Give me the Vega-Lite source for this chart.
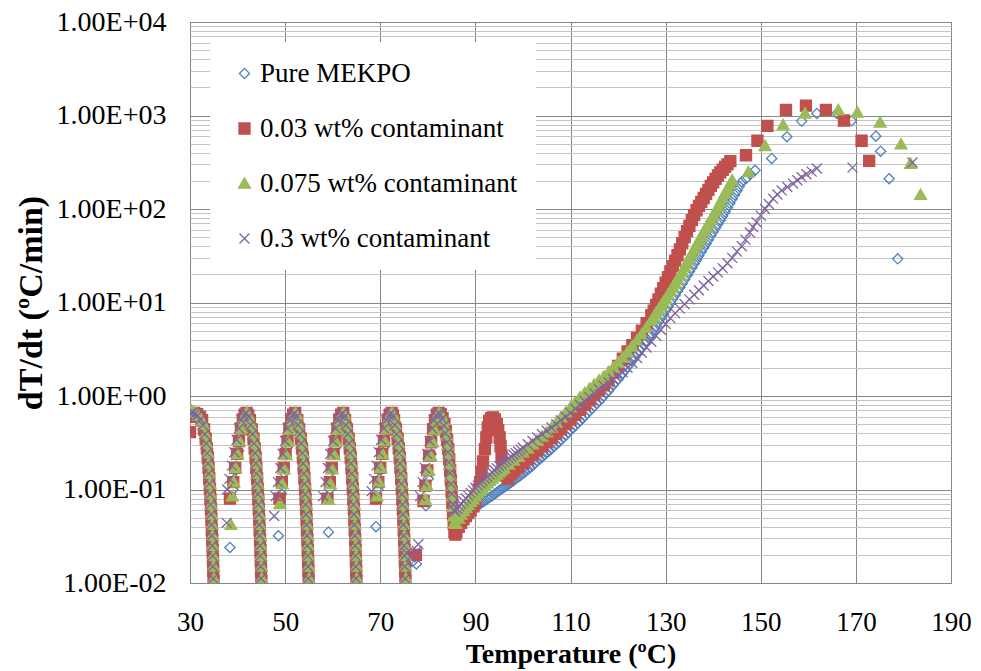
{
"$schema": "https://vega.github.io/schema/vega-lite/v6.json",
"width": 761, "height": 561, "autosize": "none",
"padding": {"left": 190, "top": 22, "right": 30, "bottom": 88},
"background": "white",
"config": {"view": {"stroke": "#868686", "strokeWidth": 1}, "font": "Liberation Serif"},
"data": {"values": [
{"s":"A","x":30.3,"y":0.6},{"s":"A","x":30.8,"y":0.63},{"s":"A","x":31.4,"y":0.62},{"s":"A","x":32.0,"y":0.58},{"s":"A","x":32.6,"y":0.5},{"s":"A","x":33.1,"y":0.38},{"s":"A","x":33.5,"y":0.27},{"s":"A","x":33.85,"y":0.17},{"s":"A","x":34.1,"y":0.11},{"s":"A","x":34.3,"y":0.072},{"s":"A","x":34.5,"y":0.045},{"s":"A","x":34.65,"y":0.03},{"s":"A","x":34.8,"y":0.019},{"s":"A","x":34.95,"y":0.012},
{"s":"A","x":38.4,"y":0.024},
{"s":"A","x":39.0,"y":0.1},{"s":"A","x":39.6,"y":0.16},{"s":"A","x":40.2,"y":0.26},{"s":"A","x":40.8,"y":0.42},{"s":"A","x":41.4,"y":0.58},{"s":"A","x":42.0,"y":0.65},{"s":"A","x":42.6,"y":0.57},{"s":"A","x":43.2,"y":0.4},{"s":"A","x":43.7,"y":0.26},{"s":"A","x":44.1,"y":0.15},{"s":"A","x":44.4,"y":0.085},{"s":"A","x":44.65,"y":0.045},{"s":"A","x":44.85,"y":0.024},{"s":"A","x":45.02,"y":0.012},
{"s":"A","x":48.6,"y":0.032},
{"s":"A","x":49.2,"y":0.09},{"s":"A","x":49.8,"y":0.15},{"s":"A","x":50.4,"y":0.28},{"s":"A","x":51.0,"y":0.44},{"s":"A","x":51.6,"y":0.6},{"s":"A","x":52.2,"y":0.65},{"s":"A","x":52.8,"y":0.52},{"s":"A","x":53.3,"y":0.37},{"s":"A","x":53.75,"y":0.24},{"s":"A","x":54.1,"y":0.14},{"s":"A","x":54.4,"y":0.08},{"s":"A","x":54.65,"y":0.043},{"s":"A","x":54.85,"y":0.023},{"s":"A","x":55.0,"y":0.012},
{"s":"A","x":59.1,"y":0.035},
{"s":"A","x":59.4,"y":0.1},{"s":"A","x":60.0,"y":0.16},{"s":"A","x":60.6,"y":0.28},{"s":"A","x":61.2,"y":0.45},{"s":"A","x":61.8,"y":0.6},{"s":"A","x":62.3,"y":0.65},{"s":"A","x":62.9,"y":0.52},{"s":"A","x":63.4,"y":0.37},{"s":"A","x":63.8,"y":0.24},{"s":"A","x":64.15,"y":0.14},{"s":"A","x":64.45,"y":0.08},{"s":"A","x":64.7,"y":0.043},{"s":"A","x":64.9,"y":0.023},{"s":"A","x":65.05,"y":0.012},
{"s":"A","x":69.1,"y":0.04},
{"s":"A","x":69.5,"y":0.1},{"s":"A","x":70.1,"y":0.16},{"s":"A","x":70.7,"y":0.28},{"s":"A","x":71.3,"y":0.45},{"s":"A","x":71.9,"y":0.6},{"s":"A","x":72.5,"y":0.65},{"s":"A","x":73.2,"y":0.52},{"s":"A","x":73.7,"y":0.37},{"s":"A","x":74.1,"y":0.24},{"s":"A","x":74.45,"y":0.14},{"s":"A","x":74.75,"y":0.08},{"s":"A","x":75.0,"y":0.043},{"s":"A","x":75.2,"y":0.023},{"s":"A","x":75.35,"y":0.012},
{"s":"A","x":76.8,"y":0.017},{"s":"A","x":77.6,"y":0.016},{"s":"A","x":79.6,"y":0.067},
{"s":"A","x":80.1,"y":0.13},{"s":"A","x":80.7,"y":0.24},{"s":"A","x":81.3,"y":0.42},{"s":"A","x":81.9,"y":0.6},{"s":"A","x":82.5,"y":0.65},{"s":"A","x":83.1,"y":0.55},{"s":"A","x":83.6,"y":0.45},{"s":"A","x":84.0,"y":0.33},{"s":"A","x":84.4,"y":0.22},{"s":"A","x":84.8,"y":0.13},{"s":"A","x":85.1,"y":0.085},{"s":"A","x":85.4,"y":0.06},{"s":"A","x":85.7,"y":0.048},{"s":"A","x":86.0,"y":0.043},
{"s":"A","x":86.5,"y":0.044},{"s":"A","x":87,"y":0.047},{"s":"A","x":87.5,"y":0.05},{"s":"A","x":88,"y":0.052},{"s":"A","x":88.5,"y":0.055},{"s":"A","x":89,"y":0.058},{"s":"A","x":89.5,"y":0.061},{"s":"A","x":90,"y":0.064},{"s":"A","x":90.5,"y":0.067},{"s":"A","x":91,"y":0.07},{"s":"A","x":91.5,"y":0.073},{"s":"A","x":92,"y":0.076},{"s":"A","x":92.5,"y":0.079},{"s":"A","x":93,"y":0.082},{"s":"A","x":93.5,"y":0.085},{"s":"A","x":94,"y":0.089},{"s":"A","x":94.5,"y":0.093},{"s":"A","x":95,"y":0.097},{"s":"A","x":95.5,"y":0.101},{"s":"A","x":96,"y":0.105},{"s":"A","x":96.5,"y":0.11},{"s":"A","x":97,"y":0.114},{"s":"A","x":97.5,"y":0.119},{"s":"A","x":98,"y":0.124},{"s":"A","x":98.5,"y":0.13},{"s":"A","x":99,"y":0.135},{"s":"A","x":99.5,"y":0.141},{"s":"A","x":100,"y":0.148},{"s":"A","x":100.5,"y":0.155},{"s":"A","x":101,"y":0.163},{"s":"A","x":101.5,"y":0.171},{"s":"A","x":102,"y":0.18},{"s":"A","x":102.5,"y":0.19},{"s":"A","x":103,"y":0.2},{"s":"A","x":103.5,"y":0.211},{"s":"A","x":104,"y":0.222},{"s":"A","x":104.5,"y":0.234},{"s":"A","x":105,"y":0.246},{"s":"A","x":105.5,"y":0.259},{"s":"A","x":106,"y":0.273},{"s":"A","x":106.5,"y":0.288},{"s":"A","x":107,"y":0.303},{"s":"A","x":107.5,"y":0.32},{"s":"A","x":108,"y":0.34},{"s":"A","x":108.5,"y":0.36},{"s":"A","x":109,"y":0.38},{"s":"A","x":109.5,"y":0.405},{"s":"A","x":110,"y":0.43},{"s":"A","x":110.5,"y":0.455},{"s":"A","x":111,"y":0.48},{"s":"A","x":111.5,"y":0.51},{"s":"A","x":112,"y":0.54},{"s":"A","x":112.5,"y":0.575},{"s":"A","x":113,"y":0.61},{"s":"A","x":113.5,"y":0.65},{"s":"A","x":114,"y":0.69},{"s":"A","x":114.5,"y":0.735},{"s":"A","x":115,"y":0.78},{"s":"A","x":115.5,"y":0.83},{"s":"A","x":116,"y":0.88},{"s":"A","x":116.5,"y":0.94},{"s":"A","x":117,"y":1.0},{"s":"A","x":117.5,"y":1.07},{"s":"A","x":118,"y":1.14},{"s":"A","x":118.5,"y":1.23},{"s":"A","x":119,"y":1.32},{"s":"A","x":119.5,"y":1.42},{"s":"A","x":120,"y":1.52},{"s":"A","x":120.5,"y":1.64},{"s":"A","x":121,"y":1.76},{"s":"A","x":121.5,"y":1.9},{"s":"A","x":122,"y":2.05},{"s":"A","x":122.5,"y":2.22},{"s":"A","x":123,"y":2.4},{"s":"A","x":123.5,"y":2.6},{"s":"A","x":124,"y":2.8},{"s":"A","x":124.5,"y":3.05},{"s":"A","x":125,"y":3.3},{"s":"A","x":125.5,"y":3.6},{"s":"A","x":126,"y":3.9},{"s":"A","x":126.5,"y":4.3},{"s":"A","x":127,"y":4.7},{"s":"A","x":127.5,"y":5.1},{"s":"A","x":128,"y":5.6},{"s":"A","x":128.5,"y":6.2},{"s":"A","x":129,"y":6.8},{"s":"A","x":129.5,"y":7.5},{"s":"A","x":130,"y":8.2},{"s":"A","x":130.5,"y":9},{"s":"A","x":131,"y":9.9},{"s":"A","x":131.5,"y":10.9},{"s":"A","x":132,"y":12},{"s":"A","x":132.5,"y":13.2},{"s":"A","x":133,"y":14.5},{"s":"A","x":133.5,"y":16},{"s":"A","x":134,"y":17.6},{"s":"A","x":134.5,"y":19.4},{"s":"A","x":135,"y":21.4},{"s":"A","x":135.5,"y":23.6},{"s":"A","x":136,"y":26},{"s":"A","x":136.5,"y":28.7},{"s":"A","x":137,"y":31.7},{"s":"A","x":137.5,"y":35},{"s":"A","x":138,"y":38.6},{"s":"A","x":138.5,"y":42.5},{"s":"A","x":139,"y":47},{"s":"A","x":139.5,"y":52},{"s":"A","x":140,"y":57},{"s":"A","x":140.5,"y":63},{"s":"A","x":141,"y":69},{"s":"A","x":141.5,"y":76},{"s":"A","x":142,"y":84},{"s":"A","x":142.5,"y":93},{"s":"A","x":143,"y":103},{"s":"A","x":143.5,"y":115},{"s":"A","x":144,"y":128},{"s":"A","x":144.5,"y":142},{"s":"A","x":145,"y":157},{"s":"A","x":145.5,"y":175},{"s":"A","x":146,"y":195},{"s":"A","x":146.9,"y":211},{"s":"A","x":147.8,"y":235},{"s":"A","x":148.8,"y":259},
{"s":"A","x":152.3,"y":347},{"s":"A","x":155.5,"y":593},{"s":"A","x":158.6,"y":871},{"s":"A","x":161.8,"y":1052},{"s":"A","x":166.0,"y":1052},{"s":"A","x":169.1,"y":879},{"s":"A","x":174.2,"y":601},{"s":"A","x":175.2,"y":415},{"s":"A","x":177.0,"y":211},{"s":"A","x":178.8,"y":29.3},

{"s":"B","x":30,"y":0.41},{"s":"B","x":30.4,"y":0.6},{"s":"B","x":30.9,"y":0.66},{"s":"B","x":31.5,"y":0.64},{"s":"B","x":32.1,"y":0.6},
{"s":"B","x":32.55,"y":0.55},{"s":"B","x":32.95,"y":0.44},{"s":"B","x":33.3,"y":0.35},{"s":"B","x":33.55,"y":0.275},{"s":"B","x":33.75,"y":0.22},{"s":"B","x":33.9,"y":0.17},{"s":"B","x":34.05,"y":0.132},{"s":"B","x":34.19,"y":0.102},{"s":"B","x":34.3,"y":0.079},{"s":"B","x":34.41,"y":0.062},{"s":"B","x":34.5,"y":0.048},{"s":"B","x":34.59,"y":0.037},{"s":"B","x":34.68,"y":0.029},{"s":"B","x":34.76,"y":0.0224},{"s":"B","x":34.83,"y":0.0174},{"s":"B","x":34.89,"y":0.0135},{"s":"B","x":34.95,"y":0.0105},
{"s":"B","x":38.4,"y":0.08},{"s":"B","x":39.1,"y":0.12},{"s":"B","x":39.5,"y":0.17},{"s":"B","x":39.9,"y":0.24},{"s":"B","x":40.3,"y":0.33},{"s":"B","x":40.7,"y":0.45},{"s":"B","x":41.1,"y":0.56},{"s":"B","x":41.5,"y":0.63},{"s":"B","x":41.9,"y":0.66},{"s":"B","x":42.25,"y":0.62},
{"s":"B","x":42.6,"y":0.55},{"s":"B","x":43.0,"y":0.44},{"s":"B","x":43.35,"y":0.35},{"s":"B","x":43.6,"y":0.275},{"s":"B","x":43.8,"y":0.22},{"s":"B","x":43.95,"y":0.17},{"s":"B","x":44.1,"y":0.132},{"s":"B","x":44.24,"y":0.102},{"s":"B","x":44.35,"y":0.079},{"s":"B","x":44.46,"y":0.062},{"s":"B","x":44.55,"y":0.048},{"s":"B","x":44.64,"y":0.037},{"s":"B","x":44.73,"y":0.029},{"s":"B","x":44.81,"y":0.0224},{"s":"B","x":44.88,"y":0.0174},{"s":"B","x":44.94,"y":0.0135},{"s":"B","x":45.0,"y":0.0105},
{"s":"B","x":48.8,"y":0.08},{"s":"B","x":49.3,"y":0.12},{"s":"B","x":49.7,"y":0.17},{"s":"B","x":50.1,"y":0.24},{"s":"B","x":50.5,"y":0.33},{"s":"B","x":50.9,"y":0.45},{"s":"B","x":51.3,"y":0.56},{"s":"B","x":51.7,"y":0.63},{"s":"B","x":52.1,"y":0.66},
{"s":"B","x":52.55,"y":0.55},{"s":"B","x":52.95,"y":0.44},{"s":"B","x":53.3,"y":0.35},{"s":"B","x":53.55,"y":0.275},{"s":"B","x":53.75,"y":0.22},{"s":"B","x":53.9,"y":0.17},{"s":"B","x":54.05,"y":0.132},{"s":"B","x":54.19,"y":0.102},{"s":"B","x":54.3,"y":0.079},{"s":"B","x":54.41,"y":0.062},{"s":"B","x":54.5,"y":0.048},{"s":"B","x":54.59,"y":0.037},{"s":"B","x":54.68,"y":0.029},{"s":"B","x":54.76,"y":0.0224},{"s":"B","x":54.83,"y":0.0174},{"s":"B","x":54.89,"y":0.0135},{"s":"B","x":54.95,"y":0.0105},
{"s":"B","x":58.9,"y":0.08},{"s":"B","x":59.4,"y":0.12},{"s":"B","x":59.8,"y":0.17},{"s":"B","x":60.2,"y":0.24},{"s":"B","x":60.6,"y":0.33},{"s":"B","x":61.0,"y":0.45},{"s":"B","x":61.4,"y":0.56},{"s":"B","x":61.8,"y":0.63},{"s":"B","x":62.2,"y":0.66},
{"s":"B","x":62.6,"y":0.55},{"s":"B","x":63.0,"y":0.44},{"s":"B","x":63.35,"y":0.35},{"s":"B","x":63.6,"y":0.275},{"s":"B","x":63.8,"y":0.22},{"s":"B","x":63.95,"y":0.17},{"s":"B","x":64.1,"y":0.132},{"s":"B","x":64.24,"y":0.102},{"s":"B","x":64.35,"y":0.079},{"s":"B","x":64.46,"y":0.062},{"s":"B","x":64.55,"y":0.048},{"s":"B","x":64.64,"y":0.037},{"s":"B","x":64.73,"y":0.029},{"s":"B","x":64.81,"y":0.0224},{"s":"B","x":64.88,"y":0.0174},{"s":"B","x":64.94,"y":0.0135},{"s":"B","x":65.0,"y":0.0105},
{"s":"B","x":69.1,"y":0.08},{"s":"B","x":69.6,"y":0.12},{"s":"B","x":70.0,"y":0.17},{"s":"B","x":70.4,"y":0.24},{"s":"B","x":70.8,"y":0.33},{"s":"B","x":71.2,"y":0.45},{"s":"B","x":71.6,"y":0.56},{"s":"B","x":72.0,"y":0.63},{"s":"B","x":72.4,"y":0.66},{"s":"B","x":72.65,"y":0.62},
{"s":"B","x":72.9,"y":0.55},{"s":"B","x":73.3,"y":0.44},{"s":"B","x":73.65,"y":0.35},{"s":"B","x":73.9,"y":0.275},{"s":"B","x":74.1,"y":0.22},{"s":"B","x":74.25,"y":0.17},{"s":"B","x":74.4,"y":0.132},{"s":"B","x":74.54,"y":0.102},{"s":"B","x":74.65,"y":0.079},{"s":"B","x":74.76,"y":0.062},{"s":"B","x":74.85,"y":0.048},{"s":"B","x":74.94,"y":0.037},{"s":"B","x":75.03,"y":0.029},{"s":"B","x":75.11,"y":0.0224},{"s":"B","x":75.18,"y":0.0174},{"s":"B","x":75.24,"y":0.0135},{"s":"B","x":75.3,"y":0.0105},
{"s":"B","x":77.5,"y":0.02},
{"s":"B","x":79.1,"y":0.075},{"s":"B","x":79.5,"y":0.11},{"s":"B","x":79.9,"y":0.16},{"s":"B","x":80.3,"y":0.23},{"s":"B","x":80.7,"y":0.32},{"s":"B","x":81.1,"y":0.44},{"s":"B","x":81.5,"y":0.55},{"s":"B","x":81.9,"y":0.63},{"s":"B","x":82.3,"y":0.66},
{"s":"B","x":82.7,"y":0.64},{"s":"B","x":83.1,"y":0.58},{"s":"B","x":83.5,"y":0.5},{"s":"B","x":83.8,"y":0.42},{"s":"B","x":84.05,"y":0.34},{"s":"B","x":84.3,"y":0.27},{"s":"B","x":84.5,"y":0.21},{"s":"B","x":84.7,"y":0.16},{"s":"B","x":84.85,"y":0.125},{"s":"B","x":85.0,"y":0.095},{"s":"B","x":85.15,"y":0.072},{"s":"B","x":85.3,"y":0.055},{"s":"B","x":85.45,"y":0.043},{"s":"B","x":85.6,"y":0.035},{"s":"B","x":85.8,"y":0.033},{"s":"B","x":86.0,"y":0.035},
{"s":"B","x":86.5,"y":0.04},{"s":"B","x":87,"y":0.044},{"s":"B","x":87.5,"y":0.048},{"s":"B","x":88,"y":0.052},{"s":"B","x":88.5,"y":0.056},{"s":"B","x":89,"y":0.06},{"s":"B","x":89.6,"y":0.066},{"s":"B","x":90,"y":0.075},{"s":"B","x":90.3,"y":0.085},{"s":"B","x":90.7,"y":0.1},{"s":"B","x":91,"y":0.12},{"s":"B","x":91.3,"y":0.155},{"s":"B","x":91.6,"y":0.2},{"s":"B","x":92.0,"y":0.27},{"s":"B","x":92.3,"y":0.36},{"s":"B","x":92.6,"y":0.46},{"s":"B","x":92.9,"y":0.54},{"s":"B","x":93.3,"y":0.58},{"s":"B","x":93.7,"y":0.59},{"s":"B","x":94.1,"y":0.56},{"s":"B","x":94.5,"y":0.5},{"s":"B","x":94.8,"y":0.43},{"s":"B","x":95.1,"y":0.36},{"s":"B","x":95.3,"y":0.29},{"s":"B","x":95.5,"y":0.23},{"s":"B","x":95.7,"y":0.19},{"s":"B","x":95.9,"y":0.16},{"s":"B","x":96.3,"y":0.14},{"s":"B","x":96.8,"y":0.13},{"s":"B","x":97.5,"y":0.145},{"s":"B","x":98,"y":0.155},{"s":"B","x":99,"y":0.17},{"s":"B","x":100,"y":0.19},{"s":"B","x":101,"y":0.21},{"s":"B","x":102,"y":0.235},{"s":"B","x":103,"y":0.26},{"s":"B","x":104,"y":0.29},{"s":"B","x":105,"y":0.32},{"s":"B","x":106,"y":0.355},{"s":"B","x":107,"y":0.395},{"s":"B","x":108,"y":0.44},{"s":"B","x":109,"y":0.5},{"s":"B","x":110,"y":0.56},{"s":"B","x":111,"y":0.63},{"s":"B","x":112,"y":0.71},{"s":"B","x":113,"y":0.8},{"s":"B","x":114,"y":0.9},{"s":"B","x":115,"y":1.02},{"s":"B","x":116,"y":1.15},{"s":"B","x":117,"y":1.3},{"s":"B","x":118,"y":1.5},{"s":"B","x":119,"y":1.78},{"s":"B","x":120,"y":2.1},{"s":"B","x":121,"y":2.5},{"s":"B","x":122,"y":3.0},{"s":"B","x":123,"y":3.5},{"s":"B","x":124,"y":4.2},{"s":"B","x":125,"y":5.0},{"s":"B","x":126,"y":6.0},{"s":"B","x":127,"y":7.3},{"s":"B","x":127.5,"y":8.2},{"s":"B","x":128,"y":9.4},{"s":"B","x":128.5,"y":10.8},{"s":"B","x":129,"y":12.4},{"s":"B","x":129.5,"y":14.2},{"s":"B","x":130,"y":16.3},{"s":"B","x":130.5,"y":18.7},{"s":"B","x":131,"y":21.5},{"s":"B","x":131.5,"y":24.5},{"s":"B","x":132,"y":28},{"s":"B","x":132.5,"y":32},{"s":"B","x":133,"y":37},{"s":"B","x":133.5,"y":43},{"s":"B","x":134,"y":50},{"s":"B","x":134.5,"y":58},{"s":"B","x":135,"y":66},{"s":"B","x":135.5,"y":76},{"s":"B","x":136,"y":86},{"s":"B","x":136.5,"y":97},{"s":"B","x":137,"y":108},{"s":"B","x":137.5,"y":119},{"s":"B","x":138,"y":131},{"s":"B","x":138.5,"y":145},{"s":"B","x":139,"y":160},{"s":"B","x":139.5,"y":177},{"s":"B","x":140,"y":193},{"s":"B","x":140.5,"y":210},{"s":"B","x":141,"y":228},{"s":"B","x":141.5,"y":246},{"s":"B","x":142,"y":263},{"s":"B","x":142.5,"y":282},{"s":"B","x":143,"y":300},{"s":"B","x":143.6,"y":325},
{"s":"B","x":146.9,"y":376},{"s":"B","x":149.3,"y":537},{"s":"B","x":151.4,"y":776},{"s":"B","x":155.3,"y":1148},{"s":"B","x":159.5,"y":1274},{"s":"B","x":163.7,"y":1148},{"s":"B","x":167.5,"y":885},{"s":"B","x":171.2,"y":537},{"s":"B","x":172.8,"y":327},

{"s":"C","x":30.3,"y":0.7},{"s":"C","x":30.7,"y":0.68},{"s":"C","x":31.2,"y":0.66},{"s":"C","x":31.8,"y":0.62},{"s":"C","x":32.4,"y":0.55},
{"s":"C","x":32.85,"y":0.49},{"s":"C","x":33.25,"y":0.39},{"s":"C","x":33.53,"y":0.31},{"s":"C","x":33.75,"y":0.245},{"s":"C","x":33.93,"y":0.19},{"s":"C","x":34.08,"y":0.148},{"s":"C","x":34.22,"y":0.115},{"s":"C","x":34.35,"y":0.089},{"s":"C","x":34.46,"y":0.069},{"s":"C","x":34.55,"y":0.054},{"s":"C","x":34.65,"y":0.042},{"s":"C","x":34.74,"y":0.032},{"s":"C","x":34.82,"y":0.025},{"s":"C","x":34.9,"y":0.0195},{"s":"C","x":34.96,"y":0.015},{"s":"C","x":35.03,"y":0.0112},
{"s":"C","x":38.6,"y":0.042},
{"s":"C","x":38.9,"y":0.085},{"s":"C","x":39.2,"y":0.12},{"s":"C","x":39.6,"y":0.17},{"s":"C","x":40.0,"y":0.24},{"s":"C","x":40.4,"y":0.33},{"s":"C","x":40.8,"y":0.45},{"s":"C","x":41.2,"y":0.56},{"s":"C","x":41.6,"y":0.63},{"s":"C","x":42.0,"y":0.66},{"s":"C","x":42.45,"y":0.6},
{"s":"C","x":42.9,"y":0.49},{"s":"C","x":43.3,"y":0.39},{"s":"C","x":43.58,"y":0.31},{"s":"C","x":43.8,"y":0.245},{"s":"C","x":43.98,"y":0.19},{"s":"C","x":44.13,"y":0.148},{"s":"C","x":44.27,"y":0.115},{"s":"C","x":44.4,"y":0.089},{"s":"C","x":44.51,"y":0.069},{"s":"C","x":44.6,"y":0.054},{"s":"C","x":44.7,"y":0.042},{"s":"C","x":44.79,"y":0.032},{"s":"C","x":44.87,"y":0.025},{"s":"C","x":44.95,"y":0.0195},{"s":"C","x":45.01,"y":0.015},{"s":"C","x":45.08,"y":0.0112},
{"s":"C","x":48.9,"y":0.07},{"s":"C","x":49.4,"y":0.115},{"s":"C","x":49.8,"y":0.165},{"s":"C","x":50.2,"y":0.235},{"s":"C","x":50.6,"y":0.325},{"s":"C","x":51.0,"y":0.44},{"s":"C","x":51.4,"y":0.55},{"s":"C","x":51.8,"y":0.62},{"s":"C","x":52.2,"y":0.66},{"s":"C","x":52.55,"y":0.6},
{"s":"C","x":52.85,"y":0.49},{"s":"C","x":53.25,"y":0.39},{"s":"C","x":53.53,"y":0.31},{"s":"C","x":53.75,"y":0.245},{"s":"C","x":53.93,"y":0.19},{"s":"C","x":54.08,"y":0.148},{"s":"C","x":54.22,"y":0.115},{"s":"C","x":54.35,"y":0.089},{"s":"C","x":54.46,"y":0.069},{"s":"C","x":54.55,"y":0.054},{"s":"C","x":54.65,"y":0.042},{"s":"C","x":54.74,"y":0.032},{"s":"C","x":54.82,"y":0.025},{"s":"C","x":54.9,"y":0.0195},{"s":"C","x":54.96,"y":0.015},{"s":"C","x":55.03,"y":0.0112},
{"s":"C","x":59.1,"y":0.078},{"s":"C","x":59.5,"y":0.115},{"s":"C","x":59.9,"y":0.165},{"s":"C","x":60.3,"y":0.235},{"s":"C","x":60.7,"y":0.325},{"s":"C","x":61.1,"y":0.44},{"s":"C","x":61.5,"y":0.55},{"s":"C","x":61.9,"y":0.62},{"s":"C","x":62.3,"y":0.66},{"s":"C","x":62.6,"y":0.6},
{"s":"C","x":62.9,"y":0.49},{"s":"C","x":63.3,"y":0.39},{"s":"C","x":63.58,"y":0.31},{"s":"C","x":63.8,"y":0.245},{"s":"C","x":63.98,"y":0.19},{"s":"C","x":64.13,"y":0.148},{"s":"C","x":64.27,"y":0.115},{"s":"C","x":64.4,"y":0.089},{"s":"C","x":64.51,"y":0.069},{"s":"C","x":64.6,"y":0.054},{"s":"C","x":64.7,"y":0.042},{"s":"C","x":64.79,"y":0.032},{"s":"C","x":64.87,"y":0.025},{"s":"C","x":64.95,"y":0.0195},{"s":"C","x":65.01,"y":0.015},{"s":"C","x":65.08,"y":0.0112},
{"s":"C","x":69.3,"y":0.085},{"s":"C","x":69.7,"y":0.12},{"s":"C","x":70.1,"y":0.17},{"s":"C","x":70.5,"y":0.24},{"s":"C","x":70.9,"y":0.33},{"s":"C","x":71.3,"y":0.45},{"s":"C","x":71.7,"y":0.56},{"s":"C","x":72.1,"y":0.63},{"s":"C","x":72.5,"y":0.66},{"s":"C","x":72.85,"y":0.6},
{"s":"C","x":73.2,"y":0.49},{"s":"C","x":73.6,"y":0.39},{"s":"C","x":73.88,"y":0.31},{"s":"C","x":74.1,"y":0.245},{"s":"C","x":74.28,"y":0.19},{"s":"C","x":74.43,"y":0.148},{"s":"C","x":74.57,"y":0.115},{"s":"C","x":74.7,"y":0.089},{"s":"C","x":74.81,"y":0.069},{"s":"C","x":74.9,"y":0.054},{"s":"C","x":75.0,"y":0.042},{"s":"C","x":75.09,"y":0.032},{"s":"C","x":75.17,"y":0.025},{"s":"C","x":75.25,"y":0.0195},{"s":"C","x":75.31,"y":0.015},{"s":"C","x":75.38,"y":0.0112},
{"s":"C","x":79.5,"y":0.078},{"s":"C","x":79.8,"y":0.11},{"s":"C","x":80.2,"y":0.16},{"s":"C","x":80.6,"y":0.23},{"s":"C","x":81.0,"y":0.32},{"s":"C","x":81.4,"y":0.44},{"s":"C","x":81.8,"y":0.55},{"s":"C","x":82.1,"y":0.63},{"s":"C","x":82.4,"y":0.66},
{"s":"C","x":82.8,"y":0.63},{"s":"C","x":83.3,"y":0.55},{"s":"C","x":83.65,"y":0.46},{"s":"C","x":83.95,"y":0.38},{"s":"C","x":84.2,"y":0.3},{"s":"C","x":84.4,"y":0.24},{"s":"C","x":84.6,"y":0.185},{"s":"C","x":84.8,"y":0.14},{"s":"C","x":84.95,"y":0.11},{"s":"C","x":85.1,"y":0.085},{"s":"C","x":85.25,"y":0.066},{"s":"C","x":85.45,"y":0.052},{"s":"C","x":85.65,"y":0.044},{"s":"C","x":85.9,"y":0.043},
{"s":"C","x":86.5,"y":0.049},{"s":"C","x":87,"y":0.054},{"s":"C","x":87.5,"y":0.059},{"s":"C","x":88,"y":0.064},{"s":"C","x":88.5,"y":0.069},{"s":"C","x":89,"y":0.074},{"s":"C","x":89.5,"y":0.079},{"s":"C","x":90,"y":0.085},{"s":"C","x":90.5,"y":0.091},{"s":"C","x":91,"y":0.097},{"s":"C","x":91.5,"y":0.103},{"s":"C","x":92,"y":0.11},{"s":"C","x":92.5,"y":0.117},{"s":"C","x":93,"y":0.124},{"s":"C","x":93.5,"y":0.131},{"s":"C","x":94,"y":0.138},{"s":"C","x":94.5,"y":0.145},{"s":"C","x":95,"y":0.153},{"s":"C","x":95.5,"y":0.161},{"s":"C","x":96,"y":0.169},{"s":"C","x":97,"y":0.186},{"s":"C","x":98,"y":0.205},{"s":"C","x":99,"y":0.225},{"s":"C","x":100,"y":0.25},{"s":"C","x":101,"y":0.275},{"s":"C","x":102,"y":0.305},{"s":"C","x":103,"y":0.335},{"s":"C","x":104,"y":0.37},{"s":"C","x":105,"y":0.41},{"s":"C","x":106,"y":0.46},{"s":"C","x":107,"y":0.52},{"s":"C","x":108,"y":0.59},{"s":"C","x":109,"y":0.67},{"s":"C","x":110,"y":0.76},{"s":"C","x":111,"y":0.86},{"s":"C","x":112,"y":0.97},{"s":"C","x":113,"y":1.08},{"s":"C","x":114,"y":1.2},{"s":"C","x":115,"y":1.33},{"s":"C","x":116,"y":1.47},{"s":"C","x":117,"y":1.62},{"s":"C","x":118,"y":1.8},{"s":"C","x":119,"y":2.02},{"s":"C","x":120,"y":2.28},{"s":"C","x":121,"y":2.58},{"s":"C","x":122,"y":2.95},{"s":"C","x":123,"y":3.4},{"s":"C","x":124,"y":3.95},{"s":"C","x":125,"y":4.6},{"s":"C","x":126,"y":5.4},{"s":"C","x":127,"y":6.4},{"s":"C","x":127.5,"y":7},{"s":"C","x":128,"y":7.7},{"s":"C","x":128.5,"y":8.4},{"s":"C","x":129,"y":9.2},{"s":"C","x":129.5,"y":10.1},{"s":"C","x":130,"y":11},{"s":"C","x":130.5,"y":12.1},{"s":"C","x":131,"y":13.3},{"s":"C","x":131.5,"y":14.6},{"s":"C","x":132,"y":16},{"s":"C","x":132.5,"y":17.7},{"s":"C","x":133,"y":19.5},{"s":"C","x":133.5,"y":21.6},{"s":"C","x":134,"y":24},{"s":"C","x":134.5,"y":27},{"s":"C","x":135,"y":30},{"s":"C","x":135.5,"y":33.5},{"s":"C","x":136,"y":37},{"s":"C","x":136.5,"y":41.5},{"s":"C","x":137,"y":46},{"s":"C","x":137.5,"y":51},{"s":"C","x":138,"y":57},{"s":"C","x":138.5,"y":63},{"s":"C","x":139,"y":70},{"s":"C","x":139.5,"y":77},{"s":"C","x":140,"y":85},{"s":"C","x":140.5,"y":95},{"s":"C","x":141,"y":106},{"s":"C","x":141.5,"y":118},{"s":"C","x":142,"y":132},{"s":"C","x":142.5,"y":148},{"s":"C","x":143,"y":165},{"s":"C","x":143.5,"y":183},{"s":"C","x":144,"y":203},
{"s":"C","x":147.4,"y":249},{"s":"C","x":150.9,"y":474},{"s":"C","x":154.7,"y":789},{"s":"C","x":159.3,"y":1054},{"s":"C","x":166.3,"y":1143},{"s":"C","x":170.3,"y":1080},{"s":"C","x":175.1,"y":843},{"s":"C","x":179.5,"y":493},{"s":"C","x":181.5,"y":306},{"s":"C","x":183.6,"y":142},

{"s":"D","x":30.1,"y":0.65},{"s":"D","x":30.5,"y":0.66},{"s":"D","x":31.0,"y":0.64},{"s":"D","x":31.6,"y":0.62},{"s":"D","x":32.2,"y":0.56},
{"s":"D","x":32.7,"y":0.49},{"s":"D","x":33.1,"y":0.39},{"s":"D","x":33.38,"y":0.31},{"s":"D","x":33.6,"y":0.245},{"s":"D","x":33.78,"y":0.19},{"s":"D","x":33.93,"y":0.148},{"s":"D","x":34.07,"y":0.115},{"s":"D","x":34.2,"y":0.089},{"s":"D","x":34.31,"y":0.069},{"s":"D","x":34.4,"y":0.054},{"s":"D","x":34.5,"y":0.042},{"s":"D","x":34.59,"y":0.032},{"s":"D","x":34.67,"y":0.025},{"s":"D","x":34.75,"y":0.0195},{"s":"D","x":34.81,"y":0.015},{"s":"D","x":34.88,"y":0.0112},
{"s":"D","x":37.7,"y":0.044},
{"s":"D","x":37.8,"y":0.1},{"s":"D","x":38.3,"y":0.13},{"s":"D","x":38.8,"y":0.18},{"s":"D","x":39.3,"y":0.25},{"s":"D","x":39.8,"y":0.34},{"s":"D","x":40.3,"y":0.45},{"s":"D","x":40.8,"y":0.55},{"s":"D","x":41.3,"y":0.62},{"s":"D","x":41.8,"y":0.66},{"s":"D","x":42.3,"y":0.6},
{"s":"D","x":42.75,"y":0.49},{"s":"D","x":43.15,"y":0.39},{"s":"D","x":43.43,"y":0.31},{"s":"D","x":43.65,"y":0.245},{"s":"D","x":43.83,"y":0.19},{"s":"D","x":43.98,"y":0.148},{"s":"D","x":44.12,"y":0.115},{"s":"D","x":44.25,"y":0.089},{"s":"D","x":44.36,"y":0.069},{"s":"D","x":44.45,"y":0.054},{"s":"D","x":44.55,"y":0.042},{"s":"D","x":44.64,"y":0.032},{"s":"D","x":44.72,"y":0.025},{"s":"D","x":44.8,"y":0.0195},{"s":"D","x":44.86,"y":0.015},{"s":"D","x":44.93,"y":0.0112},
{"s":"D","x":47.7,"y":0.052},
{"s":"D","x":48.0,"y":0.085},{"s":"D","x":48.5,"y":0.12},{"s":"D","x":49.0,"y":0.17},{"s":"D","x":49.5,"y":0.24},{"s":"D","x":50.0,"y":0.33},{"s":"D","x":50.5,"y":0.45},{"s":"D","x":51.0,"y":0.55},{"s":"D","x":51.5,"y":0.62},{"s":"D","x":52.0,"y":0.66},{"s":"D","x":52.35,"y":0.6},
{"s":"D","x":52.7,"y":0.49},{"s":"D","x":53.1,"y":0.39},{"s":"D","x":53.38,"y":0.31},{"s":"D","x":53.6,"y":0.245},{"s":"D","x":53.78,"y":0.19},{"s":"D","x":53.93,"y":0.148},{"s":"D","x":54.07,"y":0.115},{"s":"D","x":54.2,"y":0.089},{"s":"D","x":54.31,"y":0.069},{"s":"D","x":54.4,"y":0.054},{"s":"D","x":54.5,"y":0.042},{"s":"D","x":54.59,"y":0.032},{"s":"D","x":54.67,"y":0.025},{"s":"D","x":54.75,"y":0.0195},{"s":"D","x":54.81,"y":0.015},{"s":"D","x":54.88,"y":0.0112},
{"s":"D","x":58.0,"y":0.085},{"s":"D","x":58.5,"y":0.12},{"s":"D","x":59.0,"y":0.17},{"s":"D","x":59.5,"y":0.24},{"s":"D","x":60.1,"y":0.33},{"s":"D","x":60.6,"y":0.45},{"s":"D","x":61.1,"y":0.55},{"s":"D","x":61.6,"y":0.62},{"s":"D","x":62.1,"y":0.66},{"s":"D","x":62.45,"y":0.6},
{"s":"D","x":62.75,"y":0.49},{"s":"D","x":63.15,"y":0.39},{"s":"D","x":63.43,"y":0.31},{"s":"D","x":63.65,"y":0.245},{"s":"D","x":63.83,"y":0.19},{"s":"D","x":63.98,"y":0.148},{"s":"D","x":64.12,"y":0.115},{"s":"D","x":64.25,"y":0.089},{"s":"D","x":64.36,"y":0.069},{"s":"D","x":64.45,"y":0.054},{"s":"D","x":64.55,"y":0.042},{"s":"D","x":64.64,"y":0.032},{"s":"D","x":64.72,"y":0.025},{"s":"D","x":64.8,"y":0.0195},{"s":"D","x":64.86,"y":0.015},{"s":"D","x":64.93,"y":0.0112},
{"s":"D","x":68.2,"y":0.096},{"s":"D","x":68.7,"y":0.13},{"s":"D","x":69.2,"y":0.18},{"s":"D","x":69.7,"y":0.25},{"s":"D","x":70.2,"y":0.34},{"s":"D","x":70.8,"y":0.45},{"s":"D","x":71.3,"y":0.55},{"s":"D","x":71.8,"y":0.62},{"s":"D","x":72.3,"y":0.66},{"s":"D","x":72.65,"y":0.6},
{"s":"D","x":73.05,"y":0.49},{"s":"D","x":73.45,"y":0.39},{"s":"D","x":73.73,"y":0.31},{"s":"D","x":73.95,"y":0.245},{"s":"D","x":74.13,"y":0.19},{"s":"D","x":74.28,"y":0.148},{"s":"D","x":74.42,"y":0.115},{"s":"D","x":74.55,"y":0.089},{"s":"D","x":74.66,"y":0.069},{"s":"D","x":74.75,"y":0.054},{"s":"D","x":74.85,"y":0.042},{"s":"D","x":74.94,"y":0.032},{"s":"D","x":75.02,"y":0.025},{"s":"D","x":75.1,"y":0.0195},{"s":"D","x":75.16,"y":0.015},{"s":"D","x":75.23,"y":0.0112},
{"s":"D","x":75.6,"y":0.021},{"s":"D","x":76.4,"y":0.019},{"s":"D","x":77.7,"y":0.022},{"s":"D","x":78.0,"y":0.026},
{"s":"D","x":78.4,"y":0.085},{"s":"D","x":78.9,"y":0.12},{"s":"D","x":79.4,"y":0.17},{"s":"D","x":79.9,"y":0.24},{"s":"D","x":80.4,"y":0.33},{"s":"D","x":80.9,"y":0.45},{"s":"D","x":81.3,"y":0.55},{"s":"D","x":81.8,"y":0.62},{"s":"D","x":82.2,"y":0.66},
{"s":"D","x":82.6,"y":0.64},{"s":"D","x":83.0,"y":0.57},{"s":"D","x":83.4,"y":0.48},{"s":"D","x":83.7,"y":0.4},{"s":"D","x":84.0,"y":0.32},{"s":"D","x":84.25,"y":0.25},{"s":"D","x":84.45,"y":0.195},{"s":"D","x":84.65,"y":0.15},{"s":"D","x":84.85,"y":0.115},{"s":"D","x":85.05,"y":0.09},{"s":"D","x":85.3,"y":0.07},{"s":"D","x":85.55,"y":0.06},{"s":"D","x":85.8,"y":0.058},
{"s":"D","x":86.2,"y":0.062},{"s":"D","x":86.6,"y":0.066},{"s":"D","x":87,"y":0.07},{"s":"D","x":87.5,"y":0.075},{"s":"D","x":88,"y":0.08},{"s":"D","x":88.5,"y":0.086},{"s":"D","x":89,"y":0.092},{"s":"D","x":89.5,"y":0.098},{"s":"D","x":90,"y":0.104},{"s":"D","x":90.5,"y":0.11},{"s":"D","x":91,"y":0.117},{"s":"D","x":91.5,"y":0.123},{"s":"D","x":92,"y":0.13},{"s":"D","x":92.5,"y":0.137},{"s":"D","x":93,"y":0.145},{"s":"D","x":93.5,"y":0.153},{"s":"D","x":94,"y":0.161},{"s":"D","x":94.5,"y":0.169},{"s":"D","x":95,"y":0.178},{"s":"D","x":95.5,"y":0.187},{"s":"D","x":96,"y":0.196},{"s":"D","x":96.5,"y":0.205},{"s":"D","x":97,"y":0.215},{"s":"D","x":97.5,"y":0.225},{"s":"D","x":98,"y":0.235},{"s":"D","x":98.5,"y":0.245},{"s":"D","x":99,"y":0.255},{"s":"D","x":99.5,"y":0.267},{"s":"D","x":100,"y":0.28},{"s":"D","x":101,"y":0.305},{"s":"D","x":102,"y":0.33},{"s":"D","x":103,"y":0.36},{"s":"D","x":104,"y":0.39},{"s":"D","x":105,"y":0.425},{"s":"D","x":106,"y":0.46},{"s":"D","x":107,"y":0.5},{"s":"D","x":108,"y":0.55},{"s":"D","x":109,"y":0.6},{"s":"D","x":110,"y":0.66},{"s":"D","x":111,"y":0.73},{"s":"D","x":112,"y":0.8},{"s":"D","x":113,"y":0.88},{"s":"D","x":114,"y":0.97},{"s":"D","x":115,"y":1.07},{"s":"D","x":116,"y":1.18},{"s":"D","x":117,"y":1.29},{"s":"D","x":118,"y":1.4},{"s":"D","x":119,"y":1.52},{"s":"D","x":120,"y":1.65},{"s":"D","x":121,"y":1.8},{"s":"D","x":122,"y":2.0},{"s":"D","x":123,"y":2.25},{"s":"D","x":124,"y":2.55},{"s":"D","x":125,"y":2.9},{"s":"D","x":126,"y":3.3},{"s":"D","x":127,"y":3.8},{"s":"D","x":128,"y":4.4},{"s":"D","x":129,"y":5.1},{"s":"D","x":130,"y":5.9},{"s":"D","x":131,"y":6.8},{"s":"D","x":132,"y":7.7},{"s":"D","x":133,"y":8.6},{"s":"D","x":134,"y":9.6},{"s":"D","x":135,"y":10.8},{"s":"D","x":136,"y":12.1},{"s":"D","x":137,"y":13.5},{"s":"D","x":138,"y":15.2},{"s":"D","x":139,"y":17},{"s":"D","x":140,"y":19},{"s":"D","x":141,"y":21},{"s":"D","x":142,"y":23.3},{"s":"D","x":143,"y":26.3},{"s":"D","x":144,"y":30},{"s":"D","x":145,"y":35},{"s":"D","x":146,"y":40},{"s":"D","x":146.8,"y":47},{"s":"D","x":147.7,"y":56},{"s":"D","x":148.4,"y":64},{"s":"D","x":149.1,"y":72},{"s":"D","x":150,"y":85},{"s":"D","x":150.9,"y":100},{"s":"D","x":151.7,"y":113},{"s":"D","x":152.6,"y":129},{"s":"D","x":153.5,"y":143},{"s":"D","x":154.4,"y":158},{"s":"D","x":155.6,"y":172},{"s":"D","x":156.8,"y":187},{"s":"D","x":157.7,"y":203},{"s":"D","x":158.6,"y":219},{"s":"D","x":159.6,"y":235},{"s":"D","x":160.7,"y":251},{"s":"D","x":161.8,"y":271},
{"s":"D","x":169.3,"y":277},{"s":"D","x":181.9,"y":314}
]},
"mark": {"type": "point", "clip": true, "strokeWidth": 1.3, "opacity": 1, "size": 144},
"encoding": {
"x": {"field": "x", "type": "quantitative", "scale": {"domain": [30, 190], "nice": false, "zero": false},
 "axis": {"values": [30, 50, 70, 90, 110, 130, 150, 170, 190], "title": "Temperature (ºC)", "grid": true, "gridColor": "#868686", "gridOpacity": 1, "ticks": false, "domain": false, "labelFont": "Liberation Serif", "labelFontSize": 27, "labelColor": "black", "labelPadding": 26, "labelFlush": false, "titleFont": "Liberation Serif", "titleFontSize": 28, "titleFontWeight": "bold", "titleColor": "black", "titlePadding": 5}},
"y": {"field": "y", "type": "quantitative", "scale": {"type": "log", "domain": [0.01, 10000], "nice": false},
 "axis": {"values": [0.01,0.02,0.03,0.04,0.05,0.06,0.07,0.08,0.09,0.1,0.2,0.3,0.4,0.5,0.6,0.7,0.8,0.9,1,2,3,4,5,6,7,8,9,10,20,30,40,50,60,70,80,90,100,200,300,400,500,600,700,800,900,1000,2000,3000,4000,5000,6000,7000,8000,9000,10000],
  "labelExpr": "abs(log(datum.value)/LN10 - round(log(datum.value)/LN10)) < 0.0001 ? (datum.value >= 1 ? '1.00E+0' : '1.00E-0') + abs(round(log(datum.value)/LN10)) : ''",
  "labelOverlap": false, "grid": true, "gridOpacity": 1,
  "gridColor": {"condition": {"test": "abs(log(datum.value)/LN10 - round(log(datum.value)/LN10)) < 0.0001", "value": "#868686"}, "value": "#c4c4c4"},
  "ticks": false, "domain": false, "labelFont": "Liberation Serif", "labelFontSize": 28, "labelColor": "black", "labelPadding": 24,
  "title": "dT/dt (ºC/min)", "titleFont": "Liberation Serif", "titleFontSize": 34, "titleFontWeight": "bold", "titleColor": "black", "titlePadding": 8}},
"shape": {"field": "s", "type": "nominal", "scale": {"domain": ["A","B","C","D"], "range": ["M0,-0.85L0.85,0L0,0.85L-0.85,0Z", "M-0.92,-0.92L0.92,-0.92L0.92,0.92L-0.92,0.92Z", "M0,-0.95L1,0.78L-1,0.78Z", "M-0.83,-0.83L0.83,0.83M-0.83,0.83L0.83,-0.83"]},
 "legend": {"title": null, "orient": "top-left", "offset": 20, "fillColor": "white", "padding": 18, "symbolOffset": 3, "labelOffset": 2, "rowPadding": 27, "labelFont": "Liberation Serif", "labelFontSize": 27, "labelColor": "black", "symbolSize": 144, "symbolStrokeWidth": 1.3, "labelLimit": 400,
  "labelExpr": "datum.label == 'A' ? 'Pure MEKPO' : datum.label == 'B' ? '0.03 wt% contaminant' : datum.label == 'C' ? '0.075 wt% contaminant' : '0.3 wt% contaminant'"}},
"fill": {"field": "s", "type": "nominal", "scale": {"domain": ["A","B","C","D"], "range": ["transparent", "#C0504D", "#9BBB59", "transparent"]},
 "legend": {"title": null, "orient": "top-left", "offset": 20, "fillColor": "white", "padding": 18, "symbolOffset": 3, "labelOffset": 2, "rowPadding": 27, "labelFont": "Liberation Serif", "labelFontSize": 27, "labelColor": "black", "symbolSize": 144, "symbolStrokeWidth": 1.3, "labelLimit": 400,
  "labelExpr": "datum.label == 'A' ? 'Pure MEKPO' : datum.label == 'B' ? '0.03 wt% contaminant' : datum.label == 'C' ? '0.075 wt% contaminant' : '0.3 wt% contaminant'"}},
"stroke": {"field": "s", "type": "nominal", "scale": {"domain": ["A","B","C","D"], "range": ["#4F81BD", "#C0504D", "#9BBB59", "#8064A2"]},
 "legend": {"title": null, "orient": "top-left", "offset": 20, "fillColor": "white", "padding": 18, "symbolOffset": 3, "labelOffset": 2, "rowPadding": 27, "labelFont": "Liberation Serif", "labelFontSize": 27, "labelColor": "black", "symbolSize": 144, "symbolStrokeWidth": 1.3, "labelLimit": 400,
  "labelExpr": "datum.label == 'A' ? 'Pure MEKPO' : datum.label == 'B' ? '0.03 wt% contaminant' : datum.label == 'C' ? '0.075 wt% contaminant' : '0.3 wt% contaminant'"}}
}
}
